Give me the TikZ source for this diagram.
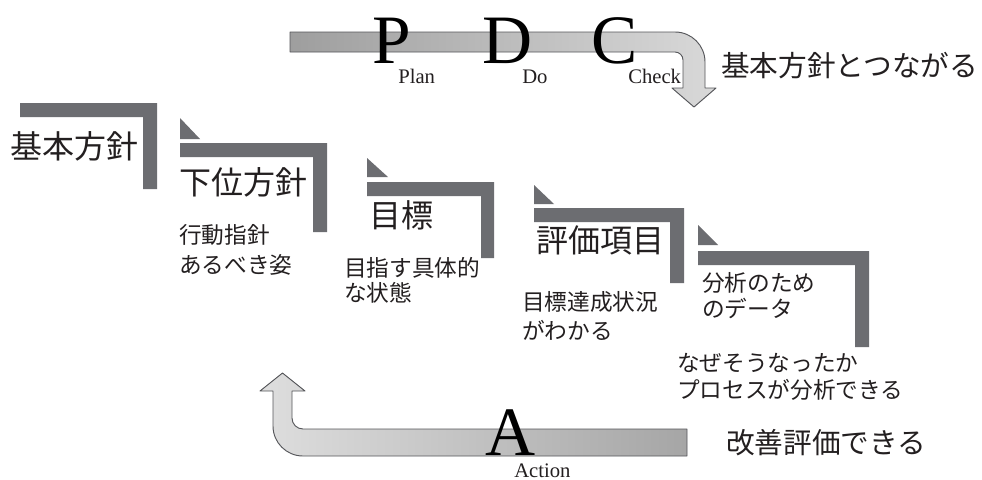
\documentclass[tikz,border=0pt]{standalone}
\usepackage{fontspec}
\setmainfont{Liberation Serif}
\newfontfamily\jpfont{Noto Sans CJK JP}
\definecolor{brk}{RGB}{108,109,113}
\definecolor{outl}{RGB}{85,86,90}
\definecolor{txt}{RGB}{35,31,32}
\begin{document}
\begin{tikzpicture}[x=0.75pt,y=-0.75pt,
  bracketfill/.style={fill=brk,draw=none},
  arrowline/.style={draw=outl,line width=0.7pt,line join=round},
  jpbig/.style={font=\jpfont\fontsize{24}{28}\selectfont,inner sep=0pt,anchor=west,text=txt},
  jpsmall/.style={font=\jpfont\fontsize{17}{20}\selectfont,inner sep=0pt,anchor=west,text=txt},
  jpside/.style={font=\jpfont\fontsize{21.5}{25}\selectfont,inner sep=0pt,anchor=west,text=txt},
  bigletter/.style={font=\fontsize{52}{52}\selectfont,inner sep=0pt,anchor=base west,text=black},
  smallword/.style={font=\fontsize{15.5}{17}\selectfont,inner sep=0pt,anchor=base west,text=txt}]
\useasboundingbox (0,0) rectangle (982,479);
\fill[white] (0,0) rectangle (982,479);

% top arrow (P D C)
\path[arrowline,left color=black!38,right color=black!15]
  (290,32) -- (675,32) .. controls (691.6,32) and (705,45.4) .. (705,62)
  -- (705,88) -- (716,88) -- (694,107) -- (672,88) -- (683,88)
  -- (683,60) .. controls (683,55.6) and (679.4,52) .. (675,52)
  -- (290,52) -- cycle;

% bottom arrow (A)
\path[arrowline,left color=black!13,right color=black!35]
  (687,429) -- (303,429) .. controls (296.9,429) and (292,424.1) .. (292,418)
  -- (292,391) -- (305,391) -- (282.5,373) -- (260,391) -- (273,391)
  -- (273,426) .. controls (273,442.6) and (286.4,456) .. (303,456)
  -- (687,456) -- cycle;

% brackets
\fill[bracketfill] (20,103) -- (157,103) -- (157,189) -- (143,189) -- (143,117) -- (20,117) -- cycle;

\fill[bracketfill] (180,118) -- (180,139) -- (200,139) -- cycle;
\fill[bracketfill] (180,143) -- (327,143) -- (327,232) -- (313,232) -- (313,157) -- (180,157) -- cycle;

\fill[bracketfill] (367,158) -- (367,177) -- (388,177) -- cycle;
\fill[bracketfill] (367,182) -- (494,182) -- (494,258) -- (481,258) -- (481,196) -- (367,196) -- cycle;

\fill[bracketfill] (534,185) -- (534,204) -- (554,204) -- cycle;
\fill[bracketfill] (534,208) -- (684,208) -- (684,283) -- (670,283) -- (670,222) -- (534,222) -- cycle;

\fill[bracketfill] (698,225) -- (698,245) -- (718,245) -- cycle;
\fill[bracketfill] (698,251) -- (869,251) -- (869,347) -- (855,347) -- (855,265) -- (698,265) -- cycle;

% big letters
\node[bigletter] (P) at (372,63) {P};
\node[bigletter] (D) at (482,63) {D};
\node[bigletter] (C) at (591,63) {C};
\node[bigletter] (A) at (485,455) {A};
\node[smallword] (plan) at (398,83) {Plan};
\node[smallword] (do) at (522,83) {Do};
\node[smallword] (check) at (628,83) {Check};
\node[smallword] (action) at (514,477) {Action};

% labels
\node[jpbig] (n1) at (10,146) {基本方針};
\node[jpbig] (n2) at (179,182) {下位方針};
\node[jpbig] (n3) at (369,215) {目標};
\node[jpbig] (n4) at (536,240) {評価項目};

\node[jpsmall] (s2a) at (179,235) {行動指針};
\node[jpsmall] (s2b) at (179,265) {あるべき姿};
\node[jpsmall] (s3a) at (344,268) {目指す具体的};
\node[jpsmall] (s3b) at (344,293) {な状態};
\node[jpsmall] (s4a) at (522,302) {目標達成状況};
\node[jpsmall] (s4b) at (522,330) {がわかる};
\node[jpsmall] (s5a) at (702,283) {分析のため};
\node[jpsmall] (s5b) at (702,308) {のデータ};
\node[jpsmall] (s6a) at (677,363) {なぜそうなったか};
\node[jpsmall] (s6b) at (677,390) {プロセスが分析できる};

\node[jpside] (r1) at (721,66) {基本方針とつながる};
\node[jpside] (r2) at (726,443) {改善評価できる};
\end{tikzpicture}
\end{document}
